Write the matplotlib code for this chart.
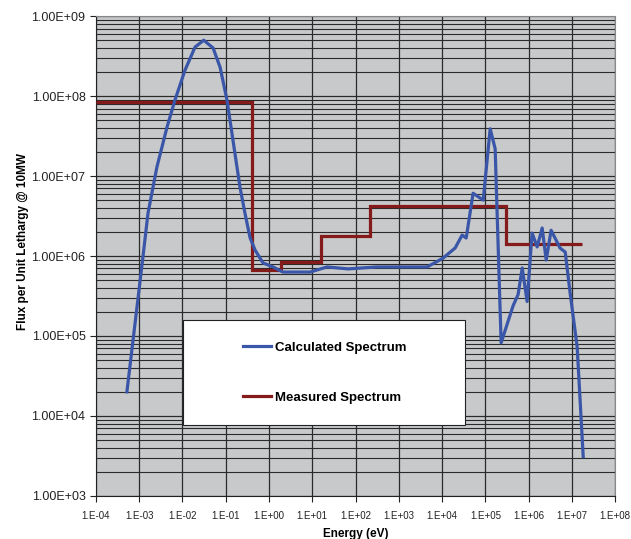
import numpy as np
import matplotlib
matplotlib.use('Agg')
import matplotlib.pyplot as plt
from matplotlib.patches import Rectangle
from matplotlib.ticker import LogLocator, FixedLocator

plt.rcParams['font.family'] = ['Liberation Sans', 'DejaVu Sans']

# Calculated spectrum (energy in eV, flux per unit lethargy)
calc_energy = [5.2e-4, 1.22e-3, 1.6e-3, 2.57e-3, 4.4e-3, 6.7e-3, 1.14e-2, 1.95e-2,
               3.1e-2, 5.1e-2, 7.4e-2, 0.107, 0.147, 0.213, 0.279, 0.364, 0.475,
               0.726, 1.24, 2.1, 8.9, 21.9, 67, 314, 4500, 1.05e4, 2.0e4, 2.9e4,
               3.6e4, 5.2e4, 8.9e4, 1.29e5, 1.68e5, 2.31e5, 4.38e5, 5.7e5, 7.1e5,
               9.2e5, 1.2e6, 1.57e6, 2.05e6, 2.54e6, 3.3e6, 5.3e6, 7.0e6, 9.1e6,
               1.32e7, 1.82e7]
calc_flux = [2.0e4, 9.7e5, 3.45e6, 1.3e7, 4.1e7, 8.9e7, 2.1e8, 4.1e8,
             5.0e8, 4.0e8, 2.3e8, 8.9e7, 2.8e7, 7.3e6, 3.4e6, 1.7e6, 1.19e6,
             8.2e5, 7.3e5, 6.3e5, 6.3e5, 7.3e5, 6.9e5, 7.3e5, 7.3e5, 9.4e5, 1.26e6, 1.83e6,
             1.68e6, 6.1e6, 5.0e6, 3.9e7, 2.2e7, 8.2e4, 2.4e5, 3.3e5, 7.1e5,
             2.7e5, 1.94e6, 1.3e6, 2.24e6, 8.9e5, 2.1e6, 1.26e6, 1.12e6, 3.4e5,
             7.3e4, 3.1e3]

# Measured spectrum (group edges and group flux)
meas_edges = [1e-4, 0.4, 1.9, 16, 216, 3.0e5, 1.7e7]
meas_flux = [8.4e7, 6.7e5, 8.4e5, 1.8e6, 4.2e6, 1.4e6]

x_ticks = [10.0 ** p for p in range(-4, 9)]
x_labels = ['1.E-04', '1.E-03', '1.E-02', '1.E-01', '1.E+00', '1.E+01', '1.E+02',
            '1.E+03', '1.E+04', '1.E+05', '1.E+06', '1.E+07', '1.E+08']
y_ticks = [10.0 ** p for p in range(3, 10)]
y_labels = ['1.00E+03', '1.00E+04', '1.00E+05', '1.00E+06', '1.00E+07',
            '1.00E+08', '1.00E+09']

blue = '#3A56A8'
red = '#841A1A'

fig = plt.figure(figsize=(6.31, 5.39), dpi=100)
ax = fig.add_axes([0.152, 0.080, 0.823, 0.890])
ax.set_facecolor('#C8C9CB')
ax.set_xscale('log')
ax.set_yscale('log')
ax.set_xlim(1e-4, 1e8)
ax.set_ylim(1e3, 1e9)

# grid: decades vertically, 1..9 horizontally
ax.yaxis.set_minor_locator(LogLocator(base=10, subs=np.arange(2, 10)))
ax.xaxis.set_minor_locator(FixedLocator([]))
ax.grid(True, which='major', axis='both', color='#2a2a2a', linewidth=0.9)
ax.grid(True, which='minor', axis='y', color='#2a2a2a', linewidth=0.8)
ax.tick_params(axis='y', which='minor', length=0)
ax.set_axisbelow(True)

ax.set_xticks(x_ticks)
ax.set_xticklabels(x_labels, fontsize=7, color='#222222')
ax.set_yticks(y_ticks)
ax.set_yticklabels(y_labels, fontsize=9, color='#222222')
ax.tick_params(axis='both', which='major', direction='out', length=4,
               width=0.8, color='#222222')
ax.tick_params(axis='x', which='major', pad=7)

for side in ['top', 'right']:
    ax.spines[side].set_color('#888888')
for side in ['left', 'bottom']:
    ax.spines[side].set_color('#222222')

ax.plot(calc_energy, calc_flux, color=blue, linewidth=2.3,
        label='Calculated Spectrum', zorder=4)
ax.stairs(meas_flux, meas_edges, color=red, linewidth=2.3, baseline=None,
          label='Measured Spectrum', zorder=3)

ax.set_xlabel('Energy (eV)', fontsize=8.5, fontweight='bold', labelpad=5)
ax.set_ylabel('Flux per Unit Lethargy @ 10MW', fontsize=8.5, fontweight='bold',
              labelpad=6)
ax.yaxis.set_label_coords(-0.128, 0.53)

# legend box
box = Rectangle((0.168, 0.148), 0.543, 0.219, transform=ax.transAxes,
                facecolor='white', edgecolor='#222222', linewidth=0.8, zorder=5)
ax.add_patch(box)
leg = ax.legend(loc='center left', bbox_to_anchor=(0.283, 0.257), frameon=False,
                borderpad=0, borderaxespad=0, labelspacing=2.85,
                handlelength=2.1, handletextpad=0.3,
                prop={'size': 9.5, 'weight': 'bold'})
leg.set_zorder(6)

fig.savefig('out.png', dpi=100)
